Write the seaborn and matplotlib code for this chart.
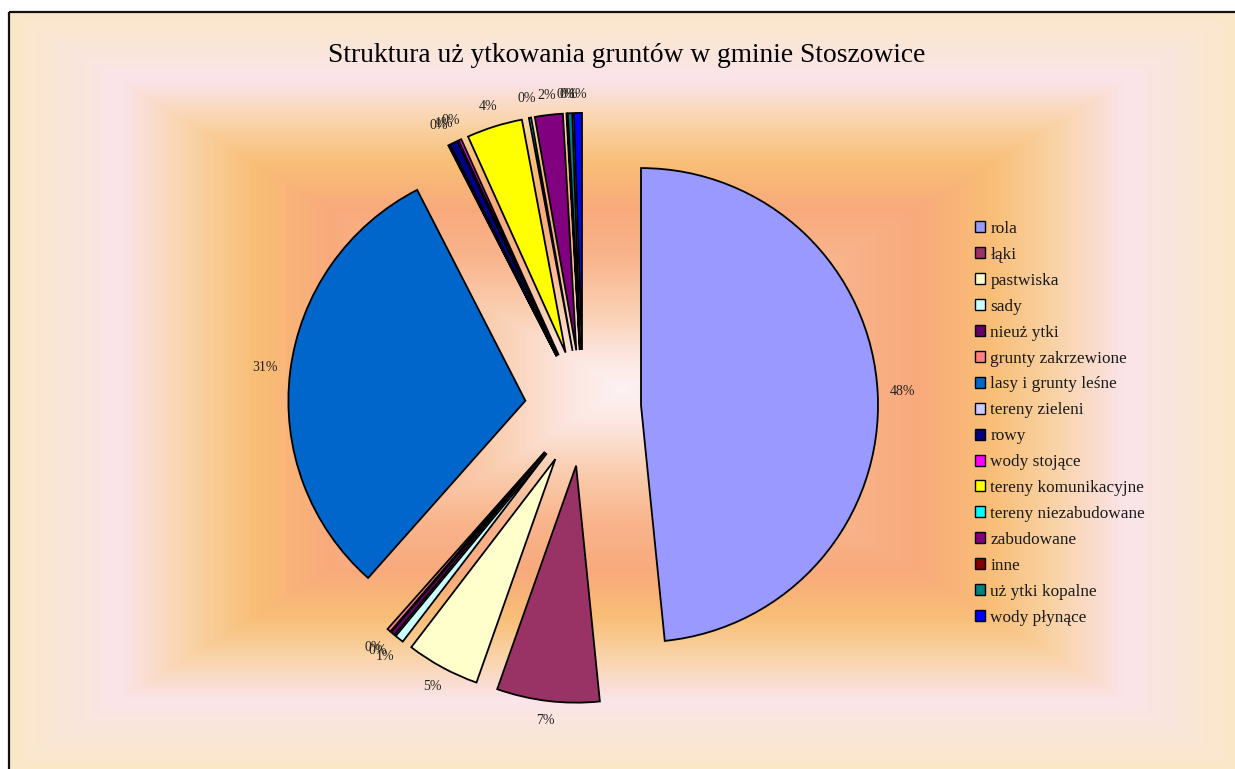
import numpy as np
import matplotlib
matplotlib.use("Agg")
import matplotlib.pyplot as plt
from matplotlib.colors import LinearSegmentedColormap
from matplotlib.patches import Patch, Rectangle
import seaborn as sns

# Land-use categories of the gmina and their share of the area (%)
categories = [
    "rola", "łąki", "pastwiska", "sady", "nieuż ytki", "grunty zakrzewione",
    "lasy i grunty leśne", "tereny zieleni", "rowy", "wody stojące",
    "tereny komunikacyjne", "tereny niezabudowane", "zabudowane", "inne",
    "uż ytki kopalne", "wody płynące",
]
shares = [
    48.4, 7.0, 5.0, 0.6, 0.3, 0.25,
    30.9, 0.05, 0.55, 0.2,
    3.8, 0.15, 1.9, 0.05,
    0.3, 0.55,
]
slice_colors = [
    "#9999FF", "#993366", "#FFFFCC", "#CCFFFF", "#660066", "#FF8080",
    "#0066CC", "#CCCCFF", "#000080", "#FF00FF",
    "#FFFF00", "#00FFFF", "#800080", "#800000",
    "#008080", "#0000FF",
]
title = "Struktura uż ytkowania gruntów w gminie Stoszowice"

sns.set_theme(style="white")
plt.rcParams["font.family"] = ["Liberation Serif", "DejaVu Serif"]

W, H = 1235, 769
fig = plt.figure(figsize=(W / 100, H / 100), dpi=100)
fig.patch.set_facecolor("white")

# Rectangular "from centre" gradient fill of the chart area
bg = fig.add_axes([0, 0, 1, 1])
bg.set_xlim(0, W)
bg.set_ylim(H, 0)
bg.axis("off")
x0, y0, x1, y1 = 9, 12, W + 2, H + 8
cx, cy = (x0 + x1) / 2, 390
hw, hh = (x1 - x0) / 2, cy - y0
xs = np.arange(x0, x1) + 0.5
ys = np.arange(y0, min(y1, H)) + 0.5
X, Y = np.meshgrid(xs, ys)
t = np.maximum(np.abs(X - cx) / hw, np.abs(Y - cy) / hh)
t = np.clip(t, 0, 1)
grad = LinearSegmentedColormap.from_list("bggrad", [
    (0.00, "#FDF2F4"),
    (0.10, "#FCE4DC"),
    (0.20, "#FAD0B4"),
    (0.35, "#F9B48C"),
    (0.48, "#F8AA7C"),
    (0.60, "#F8BE76"),
    (0.70, "#F9D2A4"),
    (0.82, "#FBE4EA"),
    (1.00, "#FAE8C8"),
])
bg.imshow(grad(t), extent=(x0, x1, min(y1, H), y0), origin="upper",
          aspect="auto", interpolation="bilinear", zorder=0)
bg.add_patch(Rectangle((x0, y0), x1 - x0, y1 - y0, fill=False,
                       edgecolor="#111111", linewidth=1.6, zorder=2))

# Pie axes: 237 px per data unit, pie centre at pixel (583, 408)
R = 237.0
pcx, pcy = 583.0, 408.0
ax = fig.add_axes([0, 0, 1, 1])
ax.set_facecolor("none")
ax.axis("off")

palette = sns.color_palette(slice_colors)
wedges, texts, autotexts = ax.pie(
    shares,
    colors=palette,
    explode=[0.245] * len(shares),
    startangle=90,
    counterclock=False,
    autopct="%1.0f%%",
    pctdistance=1.11,
    radius=1.0,
    wedgeprops=dict(edgecolor="black", linewidth=1.3),
    textprops=dict(fontsize=10, color="#222222"),
    frame=False,
)
ax.set_xlim(-pcx / R, (W - pcx) / R)
ax.set_ylim((pcy - H) / R, pcy / R)
ax.set_aspect("auto")

# Put each percentage just outside its wedge, the nearest edge of the
# label box at a fixed gap from the arc
renderer = fig.canvas.get_renderer()
gap = 0.05
for w, at in zip(wedges, autotexts):
    mid = np.deg2rad((w.theta1 + w.theta2) / 2)
    ux, uy = np.cos(mid), np.sin(mid)
    bb = at.get_window_extent(renderer)
    half_w = bb.width / 2 / R
    half_h = bb.height / 2 / R
    dist = w.r + gap + half_w * abs(ux) + half_h * abs(uy)
    ccx, ccy = w.center
    at.set_position((ccx + dist * ux, ccy + dist * uy))
    at.set_ha("center")
    at.set_va("center")

fig.text(627 / W, 1 - 55 / H, title, ha="center", va="center",
         fontsize=19.8, color="black")

handles = [Patch(facecolor=c, edgecolor="black", linewidth=1.0) for c in slice_colors]
leg = fig.legend(
    handles, categories,
    loc="upper left",
    bbox_to_anchor=(975 / W, 1 - 221 / H),
    frameon=False,
    fontsize=12.4,
    handlelength=0.6,
    handleheight=0.6,
    handletextpad=0.3,
    labelspacing=0.575,
    borderpad=0,
    borderaxespad=0,
)
for txt in leg.get_texts():
    txt.set_color("#1a1a1a")

fig.savefig("out.png", dpi=100, facecolor=fig.get_facecolor())
